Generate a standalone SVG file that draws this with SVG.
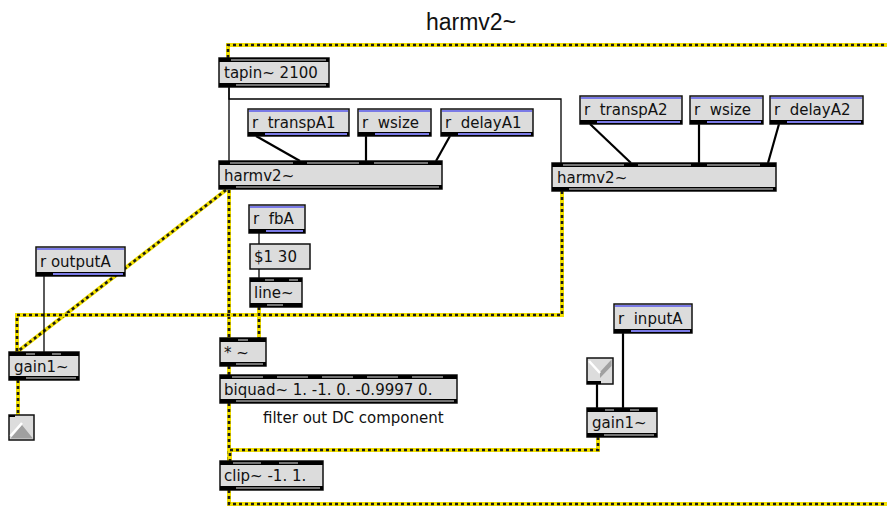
<svg xmlns="http://www.w3.org/2000/svg" width="887" height="510" viewBox="0 0 887 510">
<style>
.obj{fill:#dcdcdc;stroke:#111;stroke-width:1.5}
.band{fill:#000}
.gl{stroke:#9a9a9a;stroke-width:1.5}
.bl{stroke:#7a7ae6;stroke-width:2}
.t{font-family:"DejaVu Sans",sans-serif;font-size:15px;fill:#111;white-space:pre}
.c{font-family:"DejaVu Sans",sans-serif;font-size:15px;fill:#111}
.title{font-family:"Liberation Sans",Arial,sans-serif;font-size:23px;fill:#111}
.cord{stroke:#000;stroke-width:1.3;fill:none}
.cctl{stroke:#000;stroke-width:2.2;fill:none}
.sy{stroke:#f2e000;stroke-width:4;fill:none}
.sk{stroke:#1a1a1a;stroke-width:2.6;stroke-dasharray:3 3;fill:none}
</style>
<text class="title" x="471" y="30" text-anchor="middle">harmv2~</text>
<g id="connectors">
<g id="signal">
<path class="sy" d="M228,58 V45 H887"/><path class="sk" d="M228,58 V45 H887"/>
<path class="sy" d="M226,190 L17,352"/><path class="sk" d="M226,190 L17,352"/>
<path class="sy" d="M229,190 V338"/><path class="sk" d="M229,190 V338"/>
<path class="sy" d="M562,191 V315 H17 V352"/><path class="sk" d="M562,191 V315 H17 V352"/>
<path class="sy" d="M259,307 V338"/><path class="sk" d="M259,307 V338"/>
<path class="sy" d="M229,366 V375"/><path class="sk" d="M229,366 V375"/>
<path class="sy" d="M229,403 V461"/><path class="sk" d="M229,403 V461"/>
<path class="sy" d="M598,437 V450 H230 V461"/><path class="sk" d="M598,437 V450 H230 V461"/>
<path class="sy" d="M229,490 V504 H887"/><path class="sk" d="M229,490 V504 H887"/>
<path class="sy" d="M18,380 V415"/><path class="sk" d="M18,380 V415"/>
</g>
<path class="cord" d="M229,87 V161"/>
<path class="cord" d="M229,87 V99 H561 V163"/>
<path class="cctl" d="M256,136 L300,161"/>
<path class="cctl" d="M366,136 V161"/>
<path class="cctl" d="M450,136 L436,161"/>
<path class="cctl" d="M590,124 L631,163"/>
<path class="cctl" d="M699,124 V163"/>
<path class="cctl" d="M779,124 L768,163"/>
<path class="cord" d="M259,233 V244"/>
<path class="cord" d="M259,269 V278"/>
<path class="cord" d="M44,276 V352"/>
<path class="cctl" d="M623,333 V408"/>
<path class="cctl" d="M597,384 V408"/>
</g>
<g id="tapin">
<rect class="obj" x="219" y="58" width="110" height="29"/>
<rect class="band" x="219" y="58" width="110" height="4"/><rect class="band" x="219" y="83" width="110" height="4"/>
<line class="gl" x1="231" y1="60" x2="326" y2="60"/><line class="gl" x1="236" y1="85" x2="326" y2="85"/>
<text class="t" x="224" y="78">tapin~ 2100</text>
</g>
<g id="harmv2-1">
<rect class="obj" x="219" y="161" width="223" height="28"/>
<rect class="band" x="219" y="161" width="223" height="4"/><rect class="band" x="219" y="185" width="223" height="4"/>
<line class="gl" x1="230" y1="163" x2="293" y2="163"/><line class="gl" x1="307" y1="163" x2="359" y2="163"/><line class="gl" x1="374" y1="163" x2="428" y2="163"/>
<line class="gl" x1="236" y1="187" x2="439" y2="187"/>
<text class="t" x="224" y="181">harmv2~</text>
</g>
<g id="r-transpA1">
<rect class="obj" x="248" y="109" width="101" height="27"/>
<line class="bl" x1="249" y1="111" x2="348" y2="111"/><rect class="band" x="248" y="132" width="101" height="4"/><line class="bl" x1="265" y1="134" x2="347" y2="134"/>
<text class="t" x="252" y="128">r  transpA1</text>
</g>
<g id="r-wsize-1">
<rect class="obj" x="358" y="109" width="73" height="27"/>
<line class="bl" x1="359" y1="111" x2="430" y2="111"/><rect class="band" x="358" y="132" width="73" height="4"/><line class="bl" x1="375" y1="134" x2="429" y2="134"/>
<text class="t" x="362" y="128">r  wsize</text>
</g>
<g id="r-delayA1">
<rect class="obj" x="441" y="109" width="92" height="27"/>
<line class="bl" x1="442" y1="111" x2="532" y2="111"/><rect class="band" x="441" y="132" width="92" height="4"/><line class="bl" x1="458" y1="134" x2="531" y2="134"/>
<text class="t" x="445" y="128">r  delayA1</text>
</g>
<g id="harmv2-2">
<rect class="obj" x="552" y="163" width="224" height="28"/>
<rect class="band" x="552" y="163" width="224" height="4"/><rect class="band" x="552" y="187" width="224" height="4"/>
<line class="gl" x1="563" y1="165" x2="624" y2="165"/><line class="gl" x1="638" y1="165" x2="691" y2="165"/><line class="gl" x1="707" y1="165" x2="760" y2="165"/>
<line class="gl" x1="569" y1="189" x2="773" y2="189"/>
<text class="t" x="557" y="183">harmv2~</text>
</g>
<g id="r-transpA2">
<rect class="obj" x="580" y="96" width="102" height="28"/>
<line class="bl" x1="581" y1="98" x2="681" y2="98"/><rect class="band" x="580" y="120" width="102" height="4"/><line class="bl" x1="597" y1="122" x2="680" y2="122"/>
<text class="t" x="584" y="115">r  transpA2</text>
</g>
<g id="r-wsize-2">
<rect class="obj" x="690" y="96" width="73" height="28"/>
<line class="bl" x1="691" y1="98" x2="762" y2="98"/><rect class="band" x="690" y="120" width="73" height="4"/><line class="bl" x1="707" y1="122" x2="761" y2="122"/>
<text class="t" x="694" y="115">r  wsize</text>
</g>
<g id="r-delayA2">
<rect class="obj" x="770" y="96" width="93" height="28"/>
<line class="bl" x1="771" y1="98" x2="862" y2="98"/><rect class="band" x="770" y="120" width="93" height="4"/><line class="bl" x1="787" y1="122" x2="861" y2="122"/>
<text class="t" x="774" y="115">r  delayA2</text>
</g>
<g id="r-fbA">
<rect class="obj" x="249" y="205" width="56" height="28"/>
<line class="bl" x1="250" y1="207" x2="304" y2="207"/><rect class="band" x="249" y="229" width="56" height="4"/><line class="bl" x1="266" y1="231" x2="303" y2="231"/>
<text class="t" x="253" y="224">r  fbA</text>
</g>
<g id="msg-1-30">
<rect class="obj" x="250" y="244" width="60" height="25"/>
<text class="t" x="254" y="262">$1 30</text>
</g>
<g id="line">
<rect class="obj" x="250" y="278" width="52" height="29"/>
<rect class="band" x="250" y="278" width="52" height="4"/><rect class="band" x="250" y="303" width="52" height="4"/>
<line class="gl" x1="265" y1="280" x2="274" y2="280"/><line class="gl" x1="289" y1="280" x2="298" y2="280"/>
<line class="gl" x1="267" y1="305" x2="283" y2="305"/>
<text class="t" x="254" y="298">line~</text>
</g>
<g id="times">
<rect class="obj" x="220" y="338" width="46" height="28"/>
<rect class="band" x="220" y="338" width="46" height="4"/><rect class="band" x="220" y="362" width="46" height="4"/>
<line class="gl" x1="238" y1="340" x2="248" y2="340"/>
<line class="gl" x1="236" y1="364" x2="263" y2="364"/>
<text class="t" x="224" y="358">* ~</text>
</g>
<g id="biquad">
<rect class="obj" x="220" y="375" width="237" height="28"/>
<rect class="band" x="220" y="375" width="237" height="4"/><rect class="band" x="220" y="399" width="237" height="4"/>
<line class="gl" x1="232" y1="377" x2="263" y2="377"/><line class="gl" x1="277" y1="377" x2="308" y2="377"/><line class="gl" x1="322" y1="377" x2="353" y2="377"/><line class="gl" x1="367" y1="377" x2="398" y2="377"/><line class="gl" x1="412" y1="377" x2="443" y2="377"/>
<line class="gl" x1="236" y1="401" x2="454" y2="401"/>
<text class="t" x="224" y="395">biquad~ 1. -1. 0. -0.9997 0.</text>
</g>
<text class="c" x="263" y="423">filter out DC component</text>
<g id="clip">
<rect class="obj" x="220" y="461" width="103" height="29"/>
<rect class="band" x="220" y="461" width="103" height="4"/><rect class="band" x="220" y="486" width="103" height="4"/>
<line class="gl" x1="233" y1="463" x2="261" y2="463"/><line class="gl" x1="279" y1="463" x2="298" y2="463"/>
<line class="gl" x1="236" y1="488" x2="320" y2="488"/>
<text class="t" x="224" y="481">clip~ -1. 1.</text>
</g>
<g id="r-outputA">
<rect class="obj" x="36" y="247" width="89" height="29"/>
<line class="bl" x1="37" y1="249" x2="124" y2="249"/><rect class="band" x="36" y="272" width="89" height="4"/><line class="bl" x1="53" y1="274" x2="123" y2="274"/>
<text class="t" x="40" y="267">r outputA</text>
</g>
<g id="gain-left">
<rect class="obj" x="9" y="352" width="70" height="28"/>
<rect class="band" x="9" y="352" width="70" height="4"/><rect class="band" x="9" y="376" width="70" height="4"/>
<line class="gl" x1="26" y1="354" x2="35" y2="354"/><line class="gl" x1="52" y1="354" x2="61" y2="354"/>
<line class="gl" x1="26" y1="378" x2="76" y2="378"/>
<text class="t" x="14" y="372">gain1~</text>
</g>
<g id="dac-left">
<rect class="obj" x="9" y="415" width="25" height="25"/>
<polygon points="10.5,438.5 22,425 33,438.5" fill="#a0a0a0"/>
<polyline points="10.5,436 22,423" stroke="#fff" stroke-width="2.5" fill="none"/>
<rect class="band" x="9" y="415" width="6" height="2"/>
</g>
<g id="r-inputA">
<rect class="obj" x="614" y="304" width="78" height="29"/>
<line class="bl" x1="615" y1="306" x2="691" y2="306"/><rect class="band" x="614" y="329" width="78" height="4"/><line class="bl" x1="631" y1="331" x2="690" y2="331"/>
<text class="t" x="618" y="324">r  inputA</text>
</g>
<g id="adc-right">
<rect class="obj" x="587" y="358" width="26" height="26"/>
<polygon points="600,372 611.5,359.5 611.5,366 600,378" fill="#a0a0a0"/>
<polyline points="589,361 600,373" stroke="#fff" stroke-width="2.5" fill="none"/>
<rect class="band" x="587" y="381" width="14" height="3"/>
</g>
<g id="gain-right">
<rect class="obj" x="587" y="408" width="70" height="29"/>
<rect class="band" x="587" y="408" width="70" height="4"/><rect class="band" x="587" y="433" width="70" height="4"/>
<line class="gl" x1="605" y1="410" x2="614" y2="410"/><line class="gl" x1="630" y1="410" x2="639" y2="410"/>
<line class="gl" x1="604" y1="435" x2="654" y2="435"/>
<text class="t" x="592" y="428">gain1~</text>
</g>
</svg>
